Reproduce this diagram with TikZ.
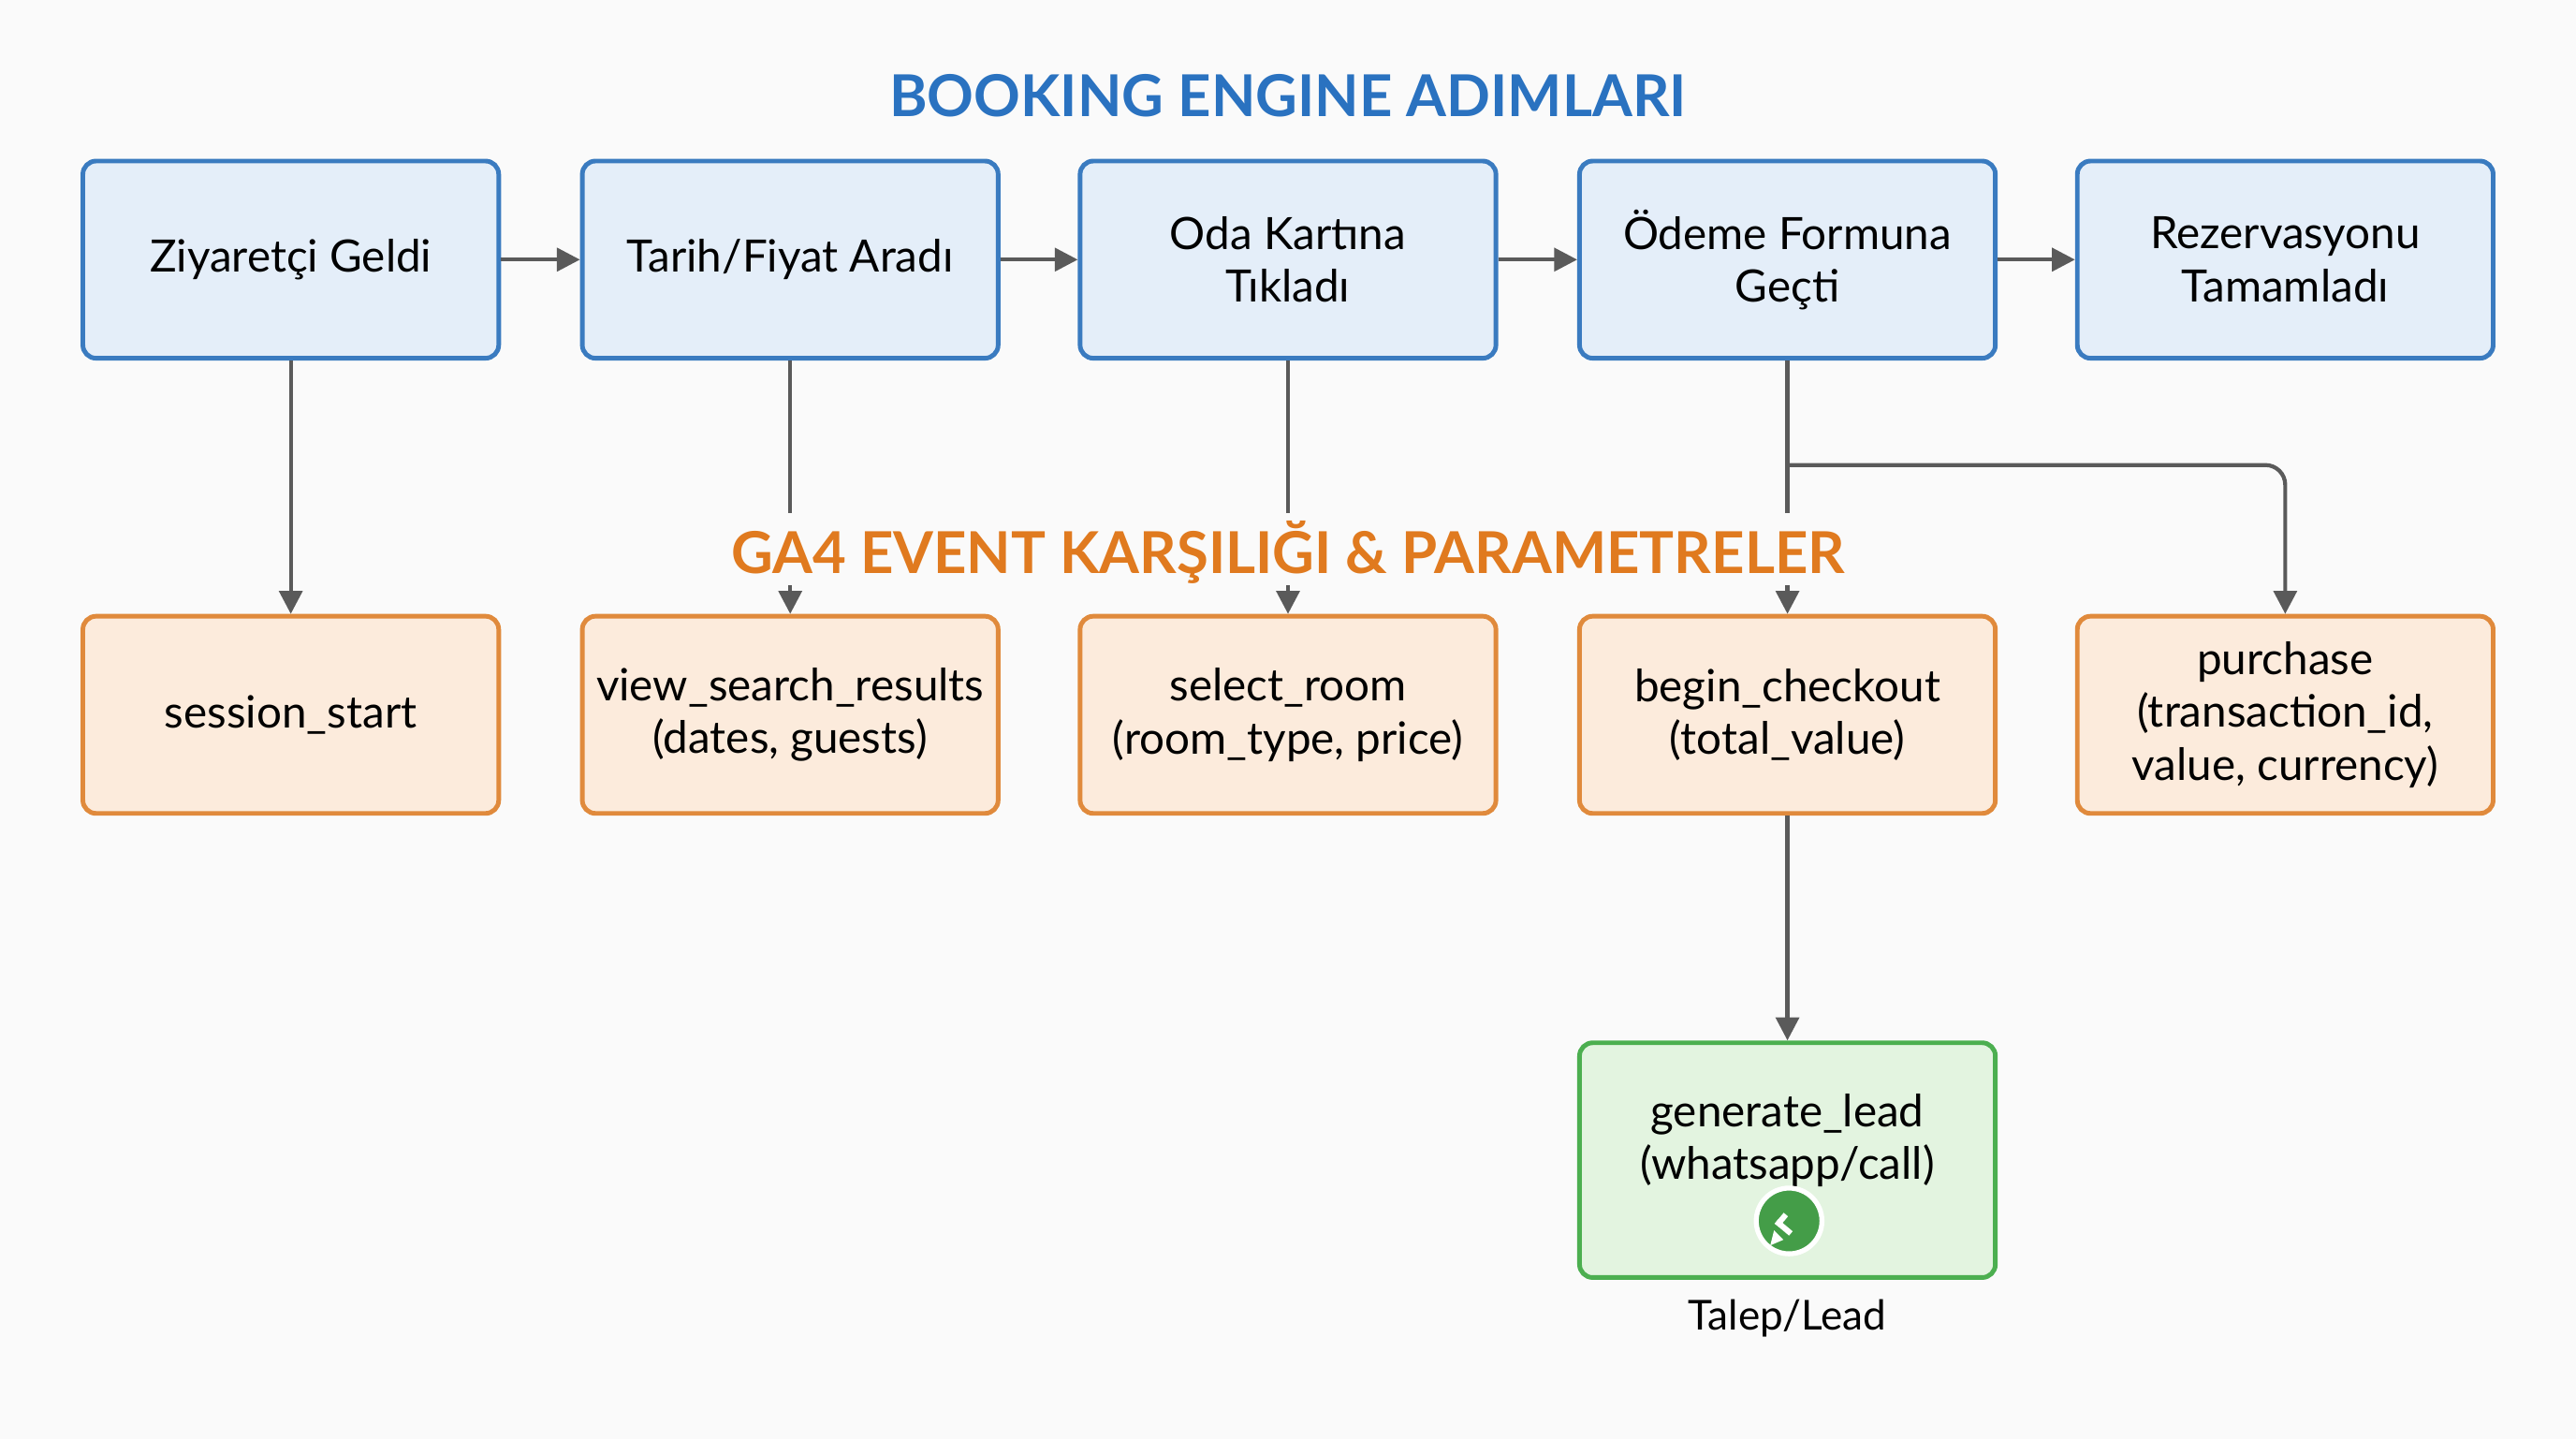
\documentclass[tikz,border=0pt]{standalone}
\usepackage{fontspec}
\setmainfont{Lato}
\usetikzlibrary{arrows.meta}
\definecolor{bg}{HTML}{FAFAFA}
\definecolor{bfill}{HTML}{E4EEF9}\definecolor{bdraw}{HTML}{3A7BC0}
\definecolor{ofill}{HTML}{FCEBDC}\definecolor{odraw}{HTML}{E08A3C}
\definecolor{gfill}{HTML}{E3F4E0}\definecolor{gdraw}{HTML}{4CAF50}
\definecolor{tblue}{HTML}{2A72C0}\definecolor{torange}{HTML}{E07A1F}
\definecolor{ln}{HTML}{5A5A5A}
\begin{document}
\begin{tikzpicture}[x=0.0175cm,y=-0.0175cm,
 box/.style={rounded corners=4pt,line width=1.4pt,minimum width=4.43cm,minimum height=2.1cm,align=center,font=\fontsize{13.5}{16}\selectfont,inner sep=2pt},
 blue/.style={box,fill=bfill,draw=bdraw},
 orange/.style={box,fill=ofill,draw=odraw},
 green/.style={box,fill=gfill,draw=gdraw,minimum height=2.5cm},
 ttl/.style={font=\fontsize{17.5}{21}\selectfont\bfseries},
 arr/.style={draw=ln,line width=1.2pt,-{Triangle[length=7pt,width=7pt]}},
 ln/.style={draw=ln,line width=1.2pt}]
\fill[bg] (0,0) rectangle (1568,876);
\useasboundingbox (0,0) rectangle (1568,876);
\node[ttl,text=tblue] (t1) at (784,58) {BOOKING ENGINE ADIMLARI};
\node[blue] (a1) at (177,158) {Ziyaretçi Geldi};
\node[blue] (a2) at (481,158) {Tarih/Fiyat Aradı};
\node[blue] (a3) at (784,158) {Oda Kartına\\Tıkladı};
\node[blue] (a4) at (1088,158) {Ödeme Formuna\\Geçti};
\node[blue] (a5) at (1391,158) {Rezervasyonu\\Tamamladı};
\node[orange] (b1) at (177,435) {session\_start};
\node[orange] (b2) at (481,435) {view\_search\_results\\(dates, guests)};
\node[orange] (b3) at (784,435) {select\_room\\(room\_type, price)};
\node[orange] (b4) at (1088,435) {begin\_checkout\\(total\_value)};
\node[orange] (b5) at (1391,435) {purchase\\(transaction\_id,\\value, currency)};
\node[green] (g) at (1088,706) {};
\node[font=\fontsize{13.5}{16}\selectfont,align=center] (gt) at (1088,694) {generate\_lead\\(whatsapp/call)};
\node[font=\fontsize{12.5}{15}\selectfont] (tl) at (1088,802) {Talep/Lead};
\node[ttl,text=torange] (t2) at (784,336) {GA4 EVENT KARŞILIĞI \& PARAMETRELER};
\foreach \i/\j in {a1/a2,a2/a3,a3/a4,a4/a5}{\draw[arr] (\i) -- (\j);}
\foreach \i/\j in {a1/b1,b4/g}{\draw[arr] (\i) -- (\j);}
\foreach \i/\j in {a2/b2,a3/b3,a4/b4}{
  \draw[ln] (\i.south) -- (\i.south |- 0,312);
  \draw[arr] (\j.north |- 0,356) -- (\j.north);}
\coordinate (k) at (1088,283);
\draw[arr,rounded corners=6pt] (k) -- (a5.south |- k) -- (b5);
% whatsapp icon
\node[circle,fill=gdraw!90!black,draw=white,line width=1.5pt,minimum size=0.7cm,inner sep=0] (w) at (1089,743) {};
\fill[white] ([xshift=-0.2cm,yshift=-0.26cm]w.center) -- ([xshift=-0.06cm,yshift=-0.2cm]w.center) -- ([xshift=-0.16cm,yshift=-0.1cm]w.center) -- cycle;
\fill[white,rotate around={-40:(w.center)}] ([xshift=-0.1cm,yshift=0.03cm]w.center) rectangle ([xshift=-0.04cm,yshift=-0.12cm]w.center);
\fill[white,rotate around={-40:(w.center)}] ([xshift=-0.1cm,yshift=-0.12cm]w.center) rectangle ([xshift=0.1cm,yshift=-0.06cm]w.center);
\end{tikzpicture}
\end{document}
